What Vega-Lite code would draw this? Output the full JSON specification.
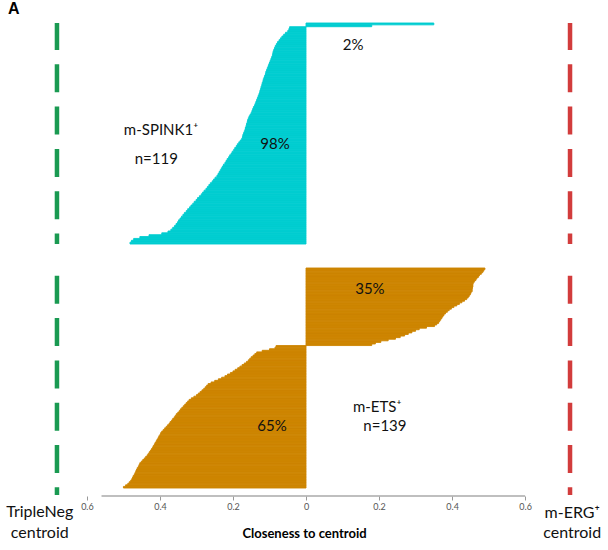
{
  "$schema": "https://vega.github.io/schema/vega-lite/v6.json",
  "padding": 0,
  "background": "white",
  "title": {"text": "A", "anchor": "start", "fontSize": 16, "font": "Liberation Sans", "fontWeight": "bold", "dx": 8, "offset": 4, "color": "#000"},
  "config": {"view": {"stroke": null}, "font": "Lato"},
  "spacing": 18,
  "datasets": {
    "s": [
      {"r":1,"v":0.35},{"r":2,"v":0.18},
      {"r":3,"v":-0.045},{"r":4,"v":-0.047},{"r":5,"v":-0.05},{"r":6,"v":-0.056},{"r":7,"v":-0.061},
      {"r":8,"v":-0.066},{"r":9,"v":-0.07},{"r":10,"v":-0.074},{"r":11,"v":-0.078},{"r":12,"v":-0.081},
      {"r":13,"v":-0.084},{"r":14,"v":-0.086},{"r":15,"v":-0.088},{"r":16,"v":-0.09},{"r":17,"v":-0.091},
      {"r":18,"v":-0.092},{"r":19,"v":-0.094},{"r":20,"v":-0.096},{"r":21,"v":-0.098},{"r":22,"v":-0.1},
      {"r":23,"v":-0.102},{"r":24,"v":-0.104},{"r":25,"v":-0.106},{"r":26,"v":-0.108},{"r":27,"v":-0.11},
      {"r":28,"v":-0.111},{"r":29,"v":-0.113},{"r":30,"v":-0.115},{"r":31,"v":-0.117},{"r":32,"v":-0.118},
      {"r":33,"v":-0.12},{"r":34,"v":-0.121},{"r":35,"v":-0.123},{"r":36,"v":-0.124},{"r":37,"v":-0.126},
      {"r":38,"v":-0.127},{"r":39,"v":-0.129},{"r":40,"v":-0.131},{"r":41,"v":-0.133},{"r":42,"v":-0.135},
      {"r":43,"v":-0.137},{"r":44,"v":-0.139},{"r":45,"v":-0.141},{"r":46,"v":-0.144},{"r":47,"v":-0.146},
      {"r":48,"v":-0.148},{"r":49,"v":-0.15},{"r":50,"v":-0.153},{"r":51,"v":-0.156},{"r":52,"v":-0.158},
      {"r":53,"v":-0.16},{"r":54,"v":-0.161},{"r":55,"v":-0.163},{"r":56,"v":-0.164},{"r":57,"v":-0.166},
      {"r":58,"v":-0.167},{"r":59,"v":-0.169},{"r":60,"v":-0.171},{"r":61,"v":-0.173},{"r":62,"v":-0.174},
      {"r":63,"v":-0.176},{"r":64,"v":-0.18},{"r":65,"v":-0.184},{"r":66,"v":-0.188},{"r":67,"v":-0.191},
      {"r":68,"v":-0.195},{"r":69,"v":-0.198},{"r":70,"v":-0.202},{"r":71,"v":-0.205},{"r":72,"v":-0.209},
      {"r":73,"v":-0.212},{"r":74,"v":-0.216},{"r":75,"v":-0.219},{"r":76,"v":-0.222},{"r":77,"v":-0.226},
      {"r":78,"v":-0.229},{"r":79,"v":-0.232},{"r":80,"v":-0.235},{"r":81,"v":-0.238},{"r":82,"v":-0.241},
      {"r":83,"v":-0.244},{"r":84,"v":-0.249},{"r":85,"v":-0.253},{"r":86,"v":-0.257},{"r":87,"v":-0.262},
      {"r":88,"v":-0.266},{"r":89,"v":-0.27},{"r":90,"v":-0.274},{"r":91,"v":-0.279},{"r":92,"v":-0.283},
      {"r":93,"v":-0.287},{"r":94,"v":-0.292},{"r":95,"v":-0.297},{"r":96,"v":-0.301},{"r":97,"v":-0.306},
      {"r":98,"v":-0.31},{"r":99,"v":-0.315},{"r":100,"v":-0.319},{"r":101,"v":-0.324},{"r":102,"v":-0.328},
      {"r":103,"v":-0.333},{"r":104,"v":-0.337},{"r":105,"v":-0.341},{"r":106,"v":-0.345},{"r":107,"v":-0.349},
      {"r":108,"v":-0.352},{"r":109,"v":-0.356},{"r":110,"v":-0.36},{"r":111,"v":-0.365},{"r":112,"v":-0.37},
      {"r":113,"v":-0.378},{"r":114,"v":-0.395},{"r":115,"v":-0.43},{"r":116,"v":-0.455},{"r":117,"v":-0.472},{"r":118,"v":-0.478},{"r":119,"v":-0.482}
    ],
    "e": [
      {"r":1,"v":0.49},{"r":2,"v":0.487},{"r":3,"v":0.484},{"r":4,"v":0.48},{"r":5,"v":0.475},
      {"r":6,"v":0.472},{"r":7,"v":0.468},{"r":8,"v":0.465},{"r":9,"v":0.461},{"r":10,"v":0.458},
      {"r":11,"v":0.457},{"r":12,"v":0.457},{"r":13,"v":0.456},{"r":14,"v":0.455},{"r":15,"v":0.455},
      {"r":16,"v":0.452},{"r":17,"v":0.45},{"r":18,"v":0.447},{"r":19,"v":0.444},{"r":20,"v":0.44},
      {"r":21,"v":0.434},{"r":22,"v":0.427},{"r":23,"v":0.42},{"r":24,"v":0.413},{"r":25,"v":0.405},
      {"r":26,"v":0.398},{"r":27,"v":0.392},{"r":28,"v":0.387},{"r":29,"v":0.382},{"r":30,"v":0.378},
      {"r":31,"v":0.375},{"r":32,"v":0.372},{"r":33,"v":0.369},{"r":34,"v":0.366},{"r":35,"v":0.363},
      {"r":36,"v":0.358},{"r":37,"v":0.352},{"r":38,"v":0.33},{"r":39,"v":0.31},{"r":40,"v":0.3},
      {"r":41,"v":0.29},{"r":42,"v":0.28},{"r":43,"v":0.27},{"r":44,"v":0.258},{"r":45,"v":0.245},
      {"r":46,"v":0.225},{"r":47,"v":0.205},{"r":48,"v":0.19},{"r":49,"v":0.18},
      {"r":50,"v":-0.082},{"r":51,"v":-0.085},{"r":52,"v":-0.1},{"r":53,"v":-0.12},{"r":54,"v":-0.135},
      {"r":55,"v":-0.14},{"r":56,"v":-0.145},{"r":57,"v":-0.15},{"r":58,"v":-0.154},{"r":59,"v":-0.158},
      {"r":60,"v":-0.163},{"r":61,"v":-0.169},{"r":62,"v":-0.175},{"r":63,"v":-0.181},{"r":64,"v":-0.187},
      {"r":65,"v":-0.194},{"r":66,"v":-0.2},{"r":67,"v":-0.207},{"r":68,"v":-0.215},{"r":69,"v":-0.222},
      {"r":70,"v":-0.231},{"r":71,"v":-0.24},{"r":72,"v":-0.25},{"r":73,"v":-0.26},{"r":74,"v":-0.268},
      {"r":75,"v":-0.272},{"r":76,"v":-0.276},{"r":77,"v":-0.28},{"r":78,"v":-0.285},{"r":79,"v":-0.29},
      {"r":80,"v":-0.295},{"r":81,"v":-0.3},{"r":82,"v":-0.307},{"r":83,"v":-0.314},{"r":84,"v":-0.32},
      {"r":85,"v":-0.324},{"r":86,"v":-0.328},{"r":87,"v":-0.332},{"r":88,"v":-0.336},{"r":89,"v":-0.34},
      {"r":90,"v":-0.344},{"r":91,"v":-0.347},{"r":92,"v":-0.351},{"r":93,"v":-0.355},{"r":94,"v":-0.358},
      {"r":95,"v":-0.361},{"r":96,"v":-0.365},{"r":97,"v":-0.368},{"r":98,"v":-0.372},{"r":99,"v":-0.375},
      {"r":100,"v":-0.379},{"r":101,"v":-0.383},{"r":102,"v":-0.387},{"r":103,"v":-0.391},{"r":104,"v":-0.395},
      {"r":105,"v":-0.398},{"r":106,"v":-0.4},{"r":107,"v":-0.403},{"r":108,"v":-0.405},{"r":109,"v":-0.408},
      {"r":110,"v":-0.41},{"r":111,"v":-0.413},{"r":112,"v":-0.415},{"r":113,"v":-0.418},{"r":114,"v":-0.42},
      {"r":115,"v":-0.423},{"r":116,"v":-0.426},{"r":117,"v":-0.429},{"r":118,"v":-0.432},{"r":119,"v":-0.435},
      {"r":120,"v":-0.439},{"r":121,"v":-0.443},{"r":122,"v":-0.447},{"r":123,"v":-0.451},{"r":124,"v":-0.455},
      {"r":125,"v":-0.457},{"r":126,"v":-0.459},{"r":127,"v":-0.462},{"r":128,"v":-0.464},{"r":129,"v":-0.466},
      {"r":130,"v":-0.468},{"r":131,"v":-0.47},{"r":132,"v":-0.473},{"r":133,"v":-0.475},{"r":134,"v":-0.477},
      {"r":135,"v":-0.48},{"r":136,"v":-0.484},{"r":137,"v":-0.488},{"r":138,"v":-0.494},{"r":139,"v":-0.5}
    ]
  },
  "vconcat": [
    {
      "width": 608,
      "height": 221,
      "resolve": {"scale": {"y": "independent"}},
      "layer": [
        {
          "data": {"name": "s"},
          "mark": {"type": "bar", "color": "#00cdd0", "stroke": "#00cdd0", "strokeWidth": 0.9},
          "encoding": {
            "y": {"field": "r", "type": "ordinal", "axis": null, "scale": {"paddingInner": 0, "paddingOuter": 0}},
            "x": {"field": "v", "type": "quantitative", "axis": null, "scale": {"domain": [-0.838, 0.827], "nice": false, "zero": false}}
          }
        },
        {
          "data": {"values": [{}]},
          "layer": [
            {"mark": {"type": "rule", "color": "#1a9a52", "strokeWidth": 4.5, "strokeDash": [28, 14.3], "strokeDashOffset": 1},
             "encoding": {"x": {"datum": -0.682}}},
            {"mark": {"type": "rule", "color": "#d23c3c", "strokeWidth": 4.5, "strokeDash": [28, 14.3], "strokeDashOffset": 1},
             "encoding": {"x": {"datum": 0.723}}},
            {"mark": {"type": "text", "fontSize": 15, "color": "#111"},
             "encoding": {"x": {"datum": -0.397}, "y": {"datum": 0.516, "axis": null, "scale": {"domain": [0, 1], "nice": false, "zero": false}}, "text": {"value": "m-SPINK1⁺"}}},
            {"mark": {"type": "text", "fontSize": 15, "color": "#111"},
             "encoding": {"x": {"datum": -0.41}, "y": {"datum": 0.385, "axis": null, "scale": {"domain": [0, 1], "nice": false, "zero": false}}, "text": {"value": "n=119"}}},
            {"mark": {"type": "text", "fontSize": 15, "color": "#111"},
             "encoding": {"x": {"datum": -0.085}, "y": {"datum": 0.452, "axis": null, "scale": {"domain": [0, 1], "nice": false, "zero": false}}, "text": {"value": "98%"}}},
            {"mark": {"type": "text", "fontSize": 15, "color": "#111"},
             "encoding": {"x": {"datum": 0.129}, "y": {"datum": 0.9, "axis": null, "scale": {"domain": [0, 1], "nice": false, "zero": false}}, "text": {"value": "2%"}}}
          ]
        }
      ]
    },
    {
      "width": 608,
      "height": 220,
      "resolve": {"scale": {"y": "independent"}},
      "layer": [
        {
          "data": {"name": "e"},
          "mark": {"type": "bar", "color": "#cd8500", "stroke": "#cd8500", "strokeWidth": 0.9},
          "encoding": {
            "y": {"field": "r", "type": "ordinal", "axis": null, "scale": {"paddingInner": 0, "paddingOuter": 0}},
            "x": {"field": "v", "type": "quantitative",
                  "scale": {"domain": [-0.838, 0.827], "nice": false, "zero": false},
                  "axis": {"values": [-0.6, -0.4, -0.2, 0, 0.2, 0.4, 0.6], "labelExpr": "format(abs(datum.value), '.1~f')",
                           "domain": false, "grid": false, "offset": 8, "tickSize": 4, "tickColor": "#999",
                           "labelFontSize": 9, "labelColor": "#555", "labelPadding": 2, "labelFont": "Lato",
                           "title": "Closeness to centroid", "titleFontSize": 13, "titleFontWeight": "bold", "titleFont": "Lato",
                           "titleColor": "#000", "titlePadding": 16}}
          }
        },
        {
          "data": {"values": [{}]},
          "layer": [
            {"mark": {"type": "rule", "color": "#1a9a52", "strokeWidth": 4.5, "strokeDash": [28, 14.3], "strokeDashOffset": 34.5},
             "encoding": {"x": {"datum": -0.682}, "y": {"datum": 1, "axis": null, "scale": {"domain": [0, 1], "nice": false, "zero": false}}, "y2": {"datum": -0.032}}},
            {"mark": {"type": "rule", "color": "#d23c3c", "strokeWidth": 4.5, "strokeDash": [28, 14.3], "strokeDashOffset": 34.5},
             "encoding": {"x": {"datum": 0.723}, "y": {"datum": 1, "axis": null, "scale": {"domain": [0, 1], "nice": false, "zero": false}}, "y2": {"datum": -0.032}}},
            {"mark": {"type": "rule", "color": "#aaaaaa", "strokeWidth": 1.5},
             "encoding": {"x": {"datum": -0.56}, "x2": {"datum": 0.6}, "y": {"datum": -0.036, "axis": null, "scale": {"domain": [0, 1], "nice": false, "zero": false}}}},
            {"mark": {"type": "text", "fontSize": 15, "color": "#111"},
             "encoding": {"x": {"datum": 0.175}, "y": {"datum": 0.905, "axis": null, "scale": {"domain": [0, 1], "nice": false, "zero": false}}, "text": {"value": "35%"}}},
            {"mark": {"type": "text", "fontSize": 15, "color": "#111"},
             "encoding": {"x": {"datum": -0.093}, "y": {"datum": 0.282, "axis": null, "scale": {"domain": [0, 1], "nice": false, "zero": false}}, "text": {"value": "65%"}}},
            {"mark": {"type": "text", "fontSize": 15, "color": "#111"},
             "encoding": {"x": {"datum": 0.195}, "y": {"datum": 0.368, "axis": null, "scale": {"domain": [0, 1], "nice": false, "zero": false}}, "text": {"value": "m-ETS⁺"}}},
            {"mark": {"type": "text", "fontSize": 15, "color": "#111"},
             "encoding": {"x": {"datum": 0.216}, "y": {"datum": 0.282, "axis": null, "scale": {"domain": [0, 1], "nice": false, "zero": false}}, "text": {"value": "n=139"}}},
            {"mark": {"type": "text", "fontSize": 16, "color": "#111"},
             "encoding": {"x": {"datum": -0.729}, "y": {"datum": -0.109, "axis": null, "scale": {"domain": [0, 1], "nice": false, "zero": false}}, "text": {"value": "TripleNeg"}}},
            {"mark": {"type": "text", "fontSize": 16, "color": "#111"},
             "encoding": {"x": {"datum": -0.729}, "y": {"datum": -0.205, "axis": null, "scale": {"domain": [0, 1], "nice": false, "zero": false}}, "text": {"value": "centroid"}}},
            {"mark": {"type": "text", "fontSize": 16, "color": "#111"},
             "encoding": {"x": {"datum": 0.729}, "y": {"datum": -0.114, "axis": null, "scale": {"domain": [0, 1], "nice": false, "zero": false}}, "text": {"value": "m-ERG⁺"}}},
            {"mark": {"type": "text", "fontSize": 16, "color": "#111"},
             "encoding": {"x": {"datum": 0.729}, "y": {"datum": -0.205, "axis": null, "scale": {"domain": [0, 1], "nice": false, "zero": false}}, "text": {"value": "centroid"}}}
          ]
        }
      ]
    }
  ]
}
